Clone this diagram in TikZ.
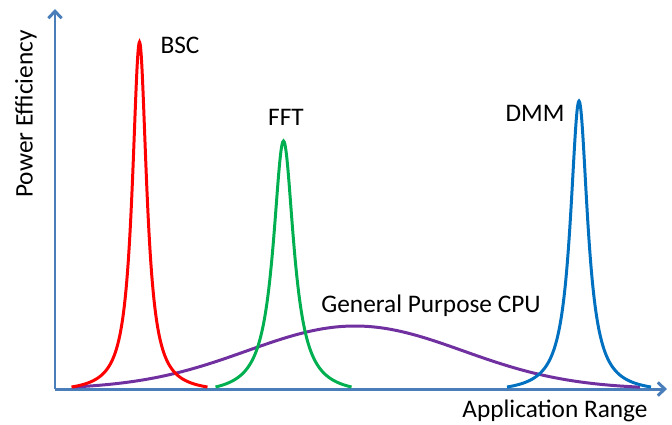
\documentclass[tikz,border=0pt]{standalone}
\usepackage{fontspec}
\setmainfont{Carlito}
\usepackage{xcolor}
\usepackage{tikz}
\usetikzlibrary{arrows.meta}

\definecolor{axisblue}{HTML}{4A7EBB}
\definecolor{bscred}{HTML}{FF0000}
\definecolor{fftgreen}{HTML}{00B050}
\definecolor{dmmblue}{HTML}{0070C0}
\definecolor{cpupurple}{HTML}{7030A0}

\begin{document}
\begin{tikzpicture}[x=0.02cm,y=-0.02cm,font=\fontsize{14.4}{16}\selectfont,
    axis/.style={axisblue,line width=1.7pt,-{Straight Barb[length=4pt,width=7.5pt]}},
    curve/.style={line width=1.7pt}]
    \useasboundingbox (0,0) rectangle (672,424);

    % Axes
    \coordinate (origin) at (55,389);
    \coordinate (ytip) at (55,9);
    \coordinate (xtip) at (667,389);
    \draw[axis] (origin) -- (ytip);
    \draw[axis] (origin) -- (xtip);
    \node[rotate=90] (ylabel) at (26,114) {Power Efficiency};
    \node (xlabel) at (555,411) {Application Range};

    % General purpose curve (broad bell)
    \draw[curve,cpupurple] plot[domain=73:640,samples=120,smooth]
        (\x,{387-61*(exp(-0.5*((\x-355)/108)^2)-0.033)/0.967});

    % Specialised peaks: centre/width/height/half span/colour
    \foreach \ctr/\wd/\ht/\rg/\col in {139.5/8.7/345/68/bscred,
                                      283.5/12.5/246/68/fftgreen,
                                      579/10.5/286/72/dmmblue}{
        \pgfmathsetmacro{\lo}{\ctr-\rg}
        \pgfmathsetmacro{\hi}{\ctr+\rg}
        \pgfmathsetmacro{\cut}{1/(1+(\rg/\wd)^2)}
        \draw[curve,\col] plot[domain=\lo:\hi,samples=161,smooth]
            (\x,{387-\ht*(1/(1+((\x-\ctr)/\wd)^2)-\cut)/(1-\cut)});
    }

    % Labels
    \node (bsc) at (180,45) {BSC};
    \node (fft) at (286,117) {FFT};
    \node (dmm) at (535,113) {DMM};
    \node (cpu) at (431,306) {General Purpose CPU};
\end{tikzpicture}
\end{document}
